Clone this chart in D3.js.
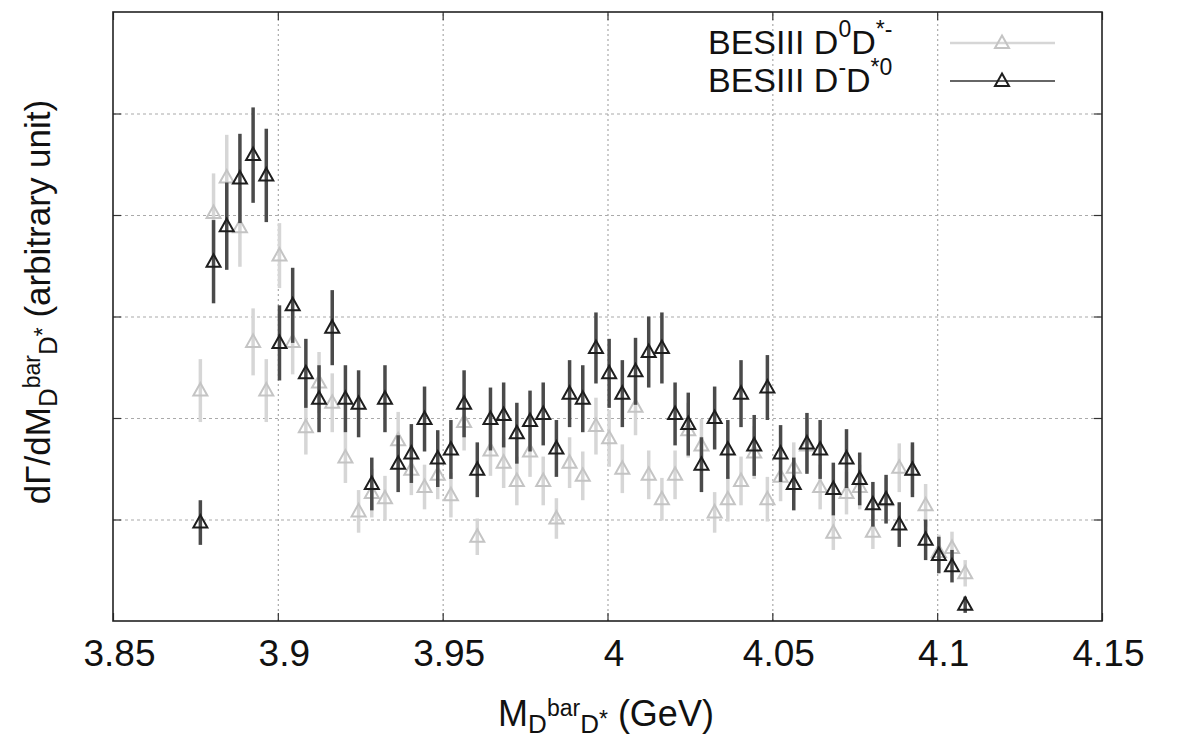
<!DOCTYPE html>
<html>
<head>
<meta charset="utf-8">
<script src="https://cdn.jsdelivr.net/npm/d3@7"></script>
<style>
body { margin: 0; background: #fff; }
text { font-family: "Liberation Sans", Arial, sans-serif; fill: #111; }
</style>
</head>
<body>
<script>
// bin centres of M(Dbar D*) in GeV
var massBins = [3.8765, 3.8805, 3.8845, 3.8885, 3.8925, 3.8965, 3.9005, 3.9045, 3.9085, 3.9125,
                3.9165, 3.9205, 3.9245, 3.9285, 3.9325, 3.9365, 3.9405, 3.9445, 3.9485, 3.9525,
                3.9565, 3.9605, 3.9645, 3.9685, 3.9725, 3.9765, 3.9805, 3.9845, 3.9885, 3.9925,
                3.9965, 4.0005, 4.0045, 4.0085, 4.0125, 4.0165, 4.0205, 4.0245, 4.0285, 4.0325,
                4.0365, 4.0405, 4.0445, 4.0485, 4.0525, 4.0565, 4.0605, 4.0645, 4.0685, 4.0725,
                4.0765, 4.0805, 4.0845, 4.0885, 4.0925, 4.0965, 4.1005, 4.1045, 4.1085];

// BESIII D0 D*- (light grey)
var neutralVals = [2.27, 4.02, 4.37, 3.88, 2.75, 2.27, 3.60, 2.75, 1.91, 2.35,
                   2.15, 1.61, 1.08, 1.26, 1.21, 1.78, 1.49, 1.32, 1.44, 1.24,
                   1.96, 0.83, 1.68, 1.56, 1.38, 1.67, 1.38, 1.01, 1.56, 1.43,
                   1.92, 1.80, 1.50, 2.11, 1.44, 1.20, 1.44, 1.88, 1.73, 1.07,
                   1.20, 1.38, 1.66, 1.20, 1.42, 1.51, 1.73, 1.32, 0.87, 1.26,
                   1.32, 0.88, 1.19, 1.51, 1.49, 1.14, 0.68, 0.72, 0.47];
var neutralErrs = [0.31, 0.39, 0.42, 0.39, 0.33, 0.31, 0.32, 0.32, 0.27, 0.30,
                   0.29, 0.25, 0.21, 0.24, 0.22, 0.28, 0.25, 0.22, 0.24, 0.22,
                   0.28, 0.18, 0.25, 0.25, 0.24, 0.25, 0.24, 0.20, 0.25, 0.24,
                   0.28, 0.28, 0.24, 0.28, 0.24, 0.21, 0.24, 0.27, 0.26, 0.20,
                   0.22, 0.24, 0.26, 0.22, 0.24, 0.25, 0.26, 0.22, 0.17, 0.21,
                   0.22, 0.17, 0.22, 0.24, 0.24, 0.21, 0.17, 0.16, 0.13];

// BESIII D- D*0 (dark)
var chargedVals = [0.97, 3.54, 3.89, 4.36, 4.59, 4.39, 2.74, 3.11, 2.44, 2.19,
                   2.89, 2.19, 2.14, 1.35, 2.19, 1.55, 1.65, 1.99, 1.60, 1.69,
                   2.14, 1.49, 1.99, 2.03, 1.85, 1.97, 2.04, 1.70, 2.24, 2.19,
                   2.69, 2.44, 2.24, 2.46, 2.65, 2.69, 2.04, 1.94, 1.54, 2.00,
                   1.69, 2.24, 1.73, 2.30, 1.65, 1.35, 1.75, 1.69, 1.30, 1.60,
                   1.40, 1.15, 1.20, 0.95, 1.49, 0.80, 0.65, 0.54, 0.16];
var chargedErrs = [0.22, 0.41, 0.43, 0.44, 0.47, 0.46, 0.37, 0.37, 0.34, 0.33,
                   0.37, 0.33, 0.33, 0.26, 0.33, 0.28, 0.29, 0.32, 0.28, 0.29,
                   0.33, 0.27, 0.31, 0.32, 0.30, 0.30, 0.31, 0.28, 0.33, 0.33,
                   0.35, 0.34, 0.33, 0.33, 0.35, 0.35, 0.31, 0.31, 0.27, 0.31,
                   0.29, 0.33, 0.30, 0.32, 0.28, 0.26, 0.30, 0.29, 0.26, 0.29,
                   0.26, 0.22, 0.24, 0.22, 0.27, 0.20, 0.18, 0.16, 0.08];

var xTicks = [3.85, 3.9, 3.95, 4, 4.05, 4.1, 4.15];
var xTickLabels = ["3.85", "3.9", "3.95", "4", "4.05", "4.1", "4.15"];
var yTicks = [1, 2, 3, 4, 5];

var width = 1179, height = 739;
var plot = {left: 113, right: 1102, top: 12, bottom: 621};

var svg = d3.select("body").append("svg")
    .attr("width", width)
    .attr("height", height);

var x = d3.scaleLinear().domain([3.85, 4.15]).range([plot.left, plot.right]);
var y = d3.scaleLinear().domain([0, 6]).range([plot.bottom, plot.top]);

//grid lines
svg.append("g")
    .attr("transform", "translate(0," + plot.bottom + ")")
    .call(d3.axisBottom(x).tickValues(xTicks.slice(1, -1)).tickSize(-(plot.bottom - plot.top)).tickFormat(""))
    .call(function(g){ g.select(".domain").remove(); })
    .selectAll("line")
    .attr("stroke", "#aaa").attr("stroke-width", 1.2).attr("stroke-dasharray", "2,3");
svg.append("g")
    .attr("transform", "translate(" + plot.left + ",0)")
    .call(d3.axisLeft(y).tickValues(yTicks).tickSize(-(plot.right - plot.left)).tickFormat(""))
    .call(function(g){ g.select(".domain").remove(); })
    .selectAll("line")
    .attr("stroke", "#aaa").attr("stroke-width", 1.2).attr("stroke-dasharray", "3,3");

//mirror ticks on all four sides
var xBottom = svg.append("g")
    .attr("transform", "translate(0," + plot.bottom + ")")
    .call(d3.axisBottom(x).tickValues(xTicks).tickSize(-8).tickPadding(19)
        .tickFormat(function(d, i){ return xTickLabels[i]; }));
xBottom.select(".domain").remove();
xBottom.selectAll("line").attr("stroke", "#333").attr("stroke-width", 1.2);
xBottom.selectAll("text")
    .attr("dx", 6)
    .style("font-family", "'Liberation Sans', Arial, sans-serif")
    .style("font-size", "37px")
    .attr("fill", "#111");

svg.append("g")
    .attr("transform", "translate(0," + plot.top + ")")
    .call(d3.axisTop(x).tickValues(xTicks).tickSize(-8).tickFormat(""))
    .call(function(g){ g.select(".domain").remove(); g.selectAll("line").attr("stroke", "#333").attr("stroke-width", 1.2); });
svg.append("g")
    .attr("transform", "translate(" + plot.left + ",0)")
    .call(d3.axisLeft(y).tickValues(yTicks).tickSize(-8).tickFormat(""))
    .call(function(g){ g.select(".domain").remove(); g.selectAll("line").attr("stroke", "#333").attr("stroke-width", 1.2); });
svg.append("g")
    .attr("transform", "translate(" + plot.right + ",0)")
    .call(d3.axisRight(y).tickValues(yTicks).tickSize(-8).tickFormat(""))
    .call(function(g){ g.select(".domain").remove(); g.selectAll("line").attr("stroke", "#333").attr("stroke-width", 1.2); });

//frame
svg.append("rect")
    .attr("x", plot.left).attr("y", plot.top)
    .attr("width", plot.right - plot.left).attr("height", plot.bottom - plot.top)
    .attr("fill", "none").attr("stroke", "#222").attr("stroke-width", 1.6);

var triangle = "M0,-7.5L7,5L-7,5Z";

function drawSeries(vals, errs, barColor, markColor, barWidth){
    var data = massBins.map(function(m, i){ return {m: m, v: vals[i], e: errs[i]}; });
    var g = svg.append("g");
    g.selectAll(".bar")
        .data(data)
        .enter()
        .append("line")
        .attr("x1", function(d){ return x(d.m); })
        .attr("x2", function(d){ return x(d.m); })
        .attr("y1", function(d){ return y(d.v - d.e); })
        .attr("y2", function(d){ return y(d.v + d.e); })
        .attr("stroke", barColor)
        .attr("stroke-width", barWidth);
    g.selectAll(".pt")
        .data(data)
        .enter()
        .append("path")
        .attr("d", triangle)
        .attr("transform", function(d){ return "translate(" + x(d.m) + "," + y(d.v) + ")"; })
        .attr("fill", "none")
        .attr("stroke", markColor)
        .attr("stroke-width", 2);
}

drawSeries(neutralVals, neutralErrs, "#d6d6d6", "#c4c4c4", 3.5);
drawSeries(chargedVals, chargedErrs, "#4a4a4a", "#1e1e1e", 3.5);

//legend
function legendLabel(yPos, sup1, sup2){
    var t = svg.append("text").attr("x", 708).attr("y", yPos).style("font-size", "34px");
    t.append("tspan").text("BESIII D");
    t.append("tspan").text(sup1).style("font-size", "23px").attr("dy", -17);
    t.append("tspan").text("D").attr("dy", 17);
    t.append("tspan").text(sup2).style("font-size", "23px").attr("dy", -17);
}
legendLabel(54, "0", "*-");
legendLabel(92, "-", "*0");

svg.append("line").attr("x1", 950).attr("x2", 1055).attr("y1", 43).attr("y2", 43)
    .attr("stroke", "#d6d6d6").attr("stroke-width", 2.5);
svg.append("path").attr("d", triangle).attr("transform", "translate(1002,43)")
    .attr("fill", "none").attr("stroke", "#c4c4c4").attr("stroke-width", 2);
svg.append("line").attr("x1", 950).attr("x2", 1055).attr("y1", 81).attr("y2", 81)
    .attr("stroke", "#333").attr("stroke-width", 1.6);
svg.append("path").attr("d", triangle).attr("transform", "translate(1002,81)")
    .attr("fill", "none").attr("stroke", "#1e1e1e").attr("stroke-width", 2);

//axis titles with the sub/superscripts of Dbar D*
function massSubscript(t){
    t.append("tspan").text("D").style("font-size", "26px").attr("dy", 7);
    t.append("tspan").text("bar").style("font-size", "23px").attr("dy", -17);
    t.append("tspan").text("D").style("font-size", "26px").attr("dy", 17);
    t.append("tspan").text("*").style("font-size", "23px").attr("dy", -6);
}

var xTitle = svg.append("text")
    .attr("x", 606).attr("y", 726)
    .attr("text-anchor", "middle")
    .style("font-size", "36px");
xTitle.append("tspan").text("M");
massSubscript(xTitle);
xTitle.append("tspan").text(" (GeV)").attr("dy", -1);

var yTitle = svg.append("text")
    .attr("transform", "translate(50,302) rotate(-90)")
    .attr("text-anchor", "middle")
    .style("font-size", "35px");
yTitle.append("tspan").text("dΓ/dM");
massSubscript(yTitle);
yTitle.append("tspan").text(" (arbitrary unit)").attr("dy", -1);
</script>
</body>
</html>
